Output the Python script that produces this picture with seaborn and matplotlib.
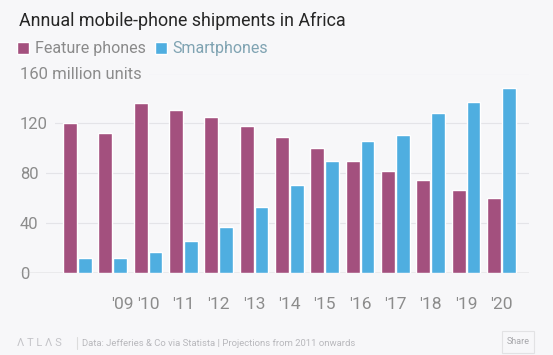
import pandas as pd
import matplotlib
matplotlib.use("Agg")
import matplotlib.pyplot as plt
import seaborn as sns
from matplotlib.patches import FancyBboxPatch

# Data (million units)
years = [2008, 2009, 2010, 2011, 2012, 2013, 2014, 2015, 2016, 2017, 2018, 2019, 2020]
feature_phones = [120, 112, 136, 131, 125, 118, 109, 100, 90, 82, 75, 67, 60]
smartphones = [12, 12, 17, 26, 37, 53, 71, 90, 106, 111, 128, 137, 148]
series_names = ["Feature phones", "Smartphones"]
tick_labels = ["'09", "'10", "'11", "'12", "'13", "'14", "'15", "'16", "'17", "'18", "'19", "'20"]
tick_pos = [1.28, 2, 3, 4, 5, 6, 7, 8, 9, 10, 11, 12]
y_ticks = [0, 40, 80, 120, 160]
y_labels = ["0", "40", "80", "120", "160 million units"]

bg = "#f7f7f9"
colors = {"Feature phones": "#a3507e", "Smartphones": "#4faee0"}

df = pd.DataFrame({
    "year": years * 2,
    "series": [series_names[0]] * len(years) + [series_names[1]] * len(years),
    "units": feature_phones + smartphones,
})

sns.set_style("white")
plt.rcParams["font.family"] = ["Roboto", "DejaVu Sans"]

fig = plt.figure(figsize=(5.53, 3.55), dpi=100, facecolor=bg)
ax = fig.add_axes([20 / 553, 81.7 / 355, 509 / 553, 199.8 / 355], facecolor=bg)

sns.barplot(data=df, x="year", y="units", hue="series", palette=colors,
            width=0.84, gap=0.07, saturation=1, ax=ax, zorder=2)

ax.set_xlim(-1.627, 12.78)
ax.set_ylim(0, 160)
ax.set_xlabel("")
ax.set_ylabel("")
for s in ax.spines.values():
    s.set_visible(False)

# y axis: labels sit inside the plot, gridlines start after the text
ax.set_yticks(y_ticks)
ax.set_yticklabels(y_labels)
ax.tick_params(axis="y", length=0, pad=0, labelsize=12, labelcolor="#8c8c8c")
for lab in ax.get_yticklabels():
    lab.set_horizontalalignment("left")
    lab.set_bbox(dict(facecolor=bg, edgecolor="none", pad=5))
ax.yaxis.grid(True, color="#e4e4e8", linewidth=0.8)
ax.set_axisbelow(True)
ax.axhline(0, color="#bdbdbd", linewidth=1, zorder=1)

# x axis
ax.set_xticks(tick_pos)
ax.set_xticklabels(tick_labels)
ax.tick_params(axis="x", length=0, pad=17, labelsize=12.5, labelcolor="#8c8c8c")

# title
fig.text(19 / 553, 1 - 21 / 355, "Annual mobile-phone shipments in Africa",
         fontsize=12.9, color="#262626", va="center", ha="left")

# legend
handles, labels = ax.get_legend_handles_labels()
leg = ax.legend(handles, labels, loc="center left", bbox_to_anchor=(17 / 553, 1 - 49 / 355),
                bbox_transform=fig.transFigure, ncol=2, frameon=False,
                handlelength=0.75, handleheight=0.75, handletextpad=0.35,
                columnspacing=0.6, fontsize=11.5, borderpad=0, borderaxespad=0)
leg.get_texts()[0].set_color("#8a8a8a")
leg.get_texts()[1].set_color("#7fa3b2")

# footer
fig.text(17 / 553, 1 - 343 / 355, "Λ T L Λ S", fontsize=8, color="#c4c4c8",
         va="center", ha="left")
fig.lines.append(plt.Line2D([77 / 553, 77 / 553], [1 - 337 / 355, 1 - 349 / 355],
                            transform=fig.transFigure, color="#dcdcdc", linewidth=0.8))
fig.text(82 / 553, 1 - 343 / 355,
         "Data: Jefferies & Co via Statista | Projections from 2011 onwards",
         fontsize=6.8, color="#b8b8bc", va="center", ha="left")
fig.patches.append(FancyBboxPatch((502 / 553, 1 - 353 / 355), 32 / 553, 22 / 355,
                                  boxstyle="square,pad=0", transform=fig.transFigure,
                                  facecolor=bg, edgecolor="#e2e2e4", linewidth=0.8))
fig.text(518 / 553, 1 - 342 / 355, "Share", fontsize=6.5, color="#a8a8ac",
         va="center", ha="center")

fig.savefig("out.png", dpi=100, facecolor=bg)
